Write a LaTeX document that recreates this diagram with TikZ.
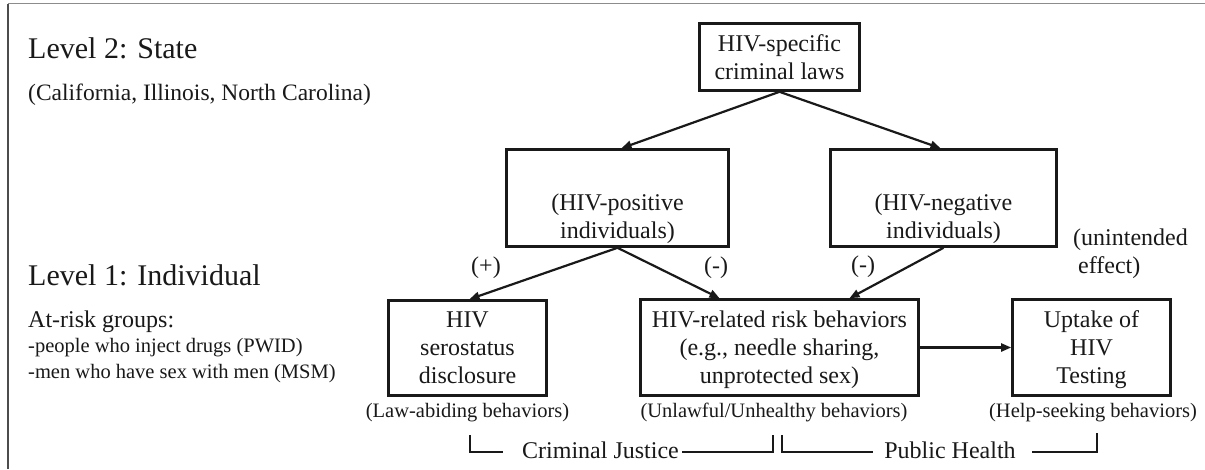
\documentclass[tikz,border=0pt]{standalone}
\usepackage{fontspec}
\setmainfont{Liberation Serif}
\usetikzlibrary{arrows.meta}
\begin{document}
\begin{tikzpicture}[x=1pt,y=-1pt,
 every node/.style={text=black!90},
 box/.style={draw=black!90, line width=2.6pt, inner sep=0pt, align=center, font=\fontsize{24}{28}\selectfont},
 arr/.style={draw=black!90, line width=2.2pt, -{Triangle[length=10pt,width=8pt]}},
 brk/.style={draw=black!90, line width=2pt},
 lvl/.style={anchor=base west, font=\fontsize{30}{36}\selectfont, inner sep=0pt},
 txt/.style={anchor=base, font=\fontsize{24}{28}\selectfont, inner sep=0pt},
 sub/.style={anchor=base, font=\fontsize{20.5}{24}\selectfont, inner sep=0pt}]
\useasboundingbox (0,0) rectangle (1205,469);
\fill[white] (0,0) rectangle (1205,469);
\draw[black!70, line width=1.5pt] (8,469) -- (8,3.5);
\draw[black!45, line width=1.5pt] (8,3.5) -- (1205,3.5);

% left texts
\node[lvl] (lv2) at (28,58) {Level 2: State};
\node[txt, anchor=base west, font=\fontsize{23.5}{28}\selectfont] (states) at (28,100) {(California, Illinois, North Carolina)};
\node[lvl] (lv1) at (28,285) {Level 1: Individual};
\node[txt, anchor=base west] (risk) at (28,327) {At-risk groups:};
\node[sub, anchor=base west] (pwid) at (28,352) {-people who inject drugs (PWID)};
\node[sub, anchor=base west] (msm) at (28,378) {-men who have sex with men (MSM)};

% boxes
\node[box, minimum width=160pt, minimum height=67pt] (top) at (779.5,57) {HIV-specific\\criminal laws};
\node[box, minimum width=222pt, minimum height=97pt] (pos) at (617.5,198)
  {\raisebox{-27pt}[0pt][0pt]{\begin{tabular}{@{}c@{}}(HIV-positive\\individuals)\end{tabular}}};
\node[box, minimum width=226pt, minimum height=97pt] (neg) at (943.5,198)
  {\raisebox{-27pt}[0pt][0pt]{\begin{tabular}{@{}c@{}}(HIV-negative\\individuals)\end{tabular}}};
\node[box, minimum width=158pt, minimum height=95pt] (sero) at (467.5,348) {HIV\\serostatus\\disclosure};
\node[box, minimum width=278pt, minimum height=96pt] (rel) at (779.5,347.5)
  {HIV-related risk behaviors\\(e.g., needle sharing,\\\raisebox{0pt}[\height][0pt]{unprotected sex)}};
\node[box, minimum width=158pt, minimum height=96pt] (upt) at (1091.5,347.5)
  {Uptake of\\HIV\\\raisebox{0pt}[\height][0pt]{Testing}};

% arrows
\draw[arr] (top.south) -- ([xshift=4pt]pos.north);
\draw[arr] (top.south) -- ([xshift=-3pt]neg.north);
\draw[arr] (pos.south) -- ([xshift=2pt]sero.north);
\draw[arr] (pos.south) -- ([xshift=-60pt]rel.north);
\draw[arr] (neg.south) -- ([xshift=70pt]rel.north);
\draw[arr] (rel.east) -- (upt.west);

% arrow labels
\node[txt] (plus) at (486,273) {(+)};
\node[txt] (minus1) at (716,273) {(-)};
\node[txt] (minus2) at (863,272) {(-)};
\node[txt, anchor=base west] (unint1) at (1073,245) {(unintended};
\node[txt, anchor=base west] (unint2) at (1078,273) {effect)};

% sub labels
\node[sub] (seroL) at (467.5,417) {(Law-abiding behaviors)};
\node[sub] (relL) at (774,417) {(Unlawful/Unhealthy behaviors)};
\node[sub] (uptL) at (1093,417) {(Help-seeking behaviors)};

% brackets
\node[txt] (cj) at (600.5,458) {Criminal Justice};
\node[txt] (ph) at (950,458) {Public Health};
\coordinate (cj1) at (470,435);
\coordinate (cj2) at (503,452);
\coordinate (cj3) at (682,452);
\coordinate (cj4) at (773,435);
\draw[brk] (cj1) |- (cj2);
\draw[brk] (cj3) -| (cj4);
\coordinate (ph1) at (782,435);
\coordinate (ph2) at (873,452);
\coordinate (ph3) at (1032,452);
\coordinate (ph4) at (1097,433);
\draw[brk] (ph1) |- (ph2);
\draw[brk] (ph3) -| (ph4);
\end{tikzpicture}
\end{document}
